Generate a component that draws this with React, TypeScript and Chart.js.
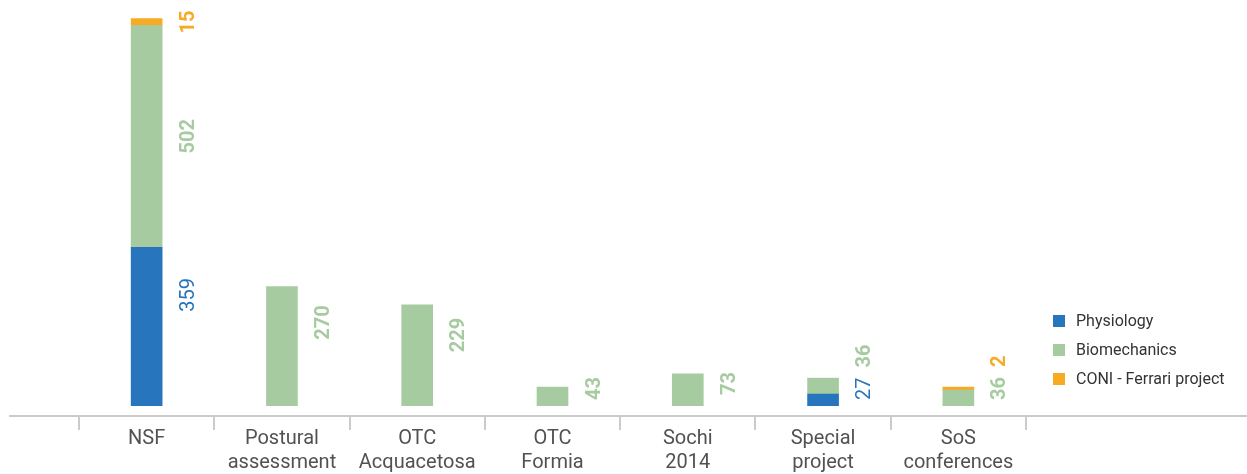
import React, { useEffect, useRef } from 'react';
import { Chart, registerables } from 'chart.js';

Chart.register(...registerables);

// Activity areas along the horizontal axis (multi-line labels)
const categories: string[][] = [
  ['NSF'],
  ['Postural', 'assessment'],
  ['OTC', 'Acquacetosa'],
  ['OTC', 'Formia'],
  ['Sochi', '2014'],
  ['Special', 'project'],
  ['SoS', 'conferences'],
];

// Number of tests per area, stacked bottom to top
const physiology: (number | null)[] = [359, null, null, null, null, 27, null];
const biomechanics: (number | null)[] = [502, 270, 229, 43, 73, 36, 36];
const coniFerrari: (number | null)[] = [15, null, null, null, null, null, 2];

const seriesNames = ['Physiology', 'Biomechanics', 'CONI - Ferrari project'];
const seriesColors = ['#2675BD', '#A7CBA0', '#F8AA23'];

const yMax = 900;

const FONT = 'Roboto, "Noto Sans", "DejaVu Sans", sans-serif';

// Rotated value labels to the right of each stacked segment
const valueLabels = {
  id: 'valueLabels',
  afterDatasetsDraw(chart: any) {
    const { ctx, chartArea } = chart;
    const axisY = chartArea.bottom;
    const n = chart.data.labels.length;
    ctx.save();
    ctx.textAlign = 'center';
    ctx.textBaseline = 'middle';
    for (let i = 0; i < n; i++) {
      let prevTop = Infinity;
      let first = true;
      chart.data.datasets.forEach((ds: any, d: number) => {
        const v = ds.data[i];
        if (v == null || v === 0) return;
        const bar = chart.getDatasetMeta(d).data[i];
        const text = String(v);
        ctx.font = `${d === 0 ? 'normal' : 'bold'} 20px ${FONT}`;
        const half = ctx.measureText(text).width / 2;
        const h = bar.base - bar.y;
        let cy: number;
        if (first) {
          cy = Math.min(bar.base - 0.7 * h, axisY - 6 - half);
        } else {
          cy = Math.min((bar.y + bar.base) / 2, prevTop - 10 - half);
        }
        ctx.save();
        ctx.translate(bar.x + 42, cy);
        ctx.rotate(-Math.PI / 2);
        ctx.fillStyle = ds.backgroundColor;
        ctx.fillText(text, 0, 0);
        ctx.restore();
        prevTop = cy - half;
        first = false;
      });
    }
    ctx.restore();
  },
};

// Baseline with category separator ticks, set a little below the bars
const baseLine = {
  id: 'baseLine',
  afterDraw(chart: any) {
    const { ctx, chartArea } = chart;
    const x = chart.scales.x;
    const y = chartArea.bottom + 10;
    ctx.save();
    ctx.strokeStyle = '#CBCBCB';
    ctx.lineWidth = 2;
    ctx.beginPath();
    ctx.moveTo(chartArea.left - 70, y);
    ctx.lineTo(chart.width, y);
    ctx.stroke();
    const n = chart.data.labels.length;
    const w = (x.right - x.left) / n;
    for (let i = 0; i <= n; i++) {
      const px = Math.round(x.left + i * w);
      ctx.beginPath();
      ctx.moveTo(px, y);
      ctx.lineTo(px, y + 14);
      ctx.stroke();
    }
    ctx.restore();
  },
};

// Legend block to the lower right of the plot
const legendBlock = {
  id: 'legendBlock',
  afterDraw(chart: any) {
    const { ctx, chartArea } = chart;
    const datasets = chart.data.datasets;
    const x0 = chartArea.right + 27;
    const rowGap = 29;
    const lastY = chartArea.bottom - 27;
    ctx.save();
    ctx.font = `16px ${FONT}`;
    ctx.textBaseline = 'middle';
    ctx.textAlign = 'left';
    datasets.forEach((ds: any, k: number) => {
      const cy = lastY - (datasets.length - 1 - k) * rowGap;
      ctx.fillStyle = ds.backgroundColor;
      ctx.fillRect(x0, cy - 6, 12, 12);
      ctx.fillStyle = '#333333';
      ctx.fillText(ds.label, x0 + 23, cy + 1);
    });
    ctx.restore();
  },
};

export default function App() {
  const canvasRef = useRef<HTMLCanvasElement | null>(null);

  useEffect(() => {
    const canvas = canvasRef.current;
    if (!canvas) return;
    const series = [physiology, biomechanics, coniFerrari];
    const chart = new Chart(canvas, {
      type: 'bar',
      data: {
        labels: categories,
        datasets: series.map((data, k) => ({
          label: seriesNames[k],
          data,
          backgroundColor: seriesColors[k],
          borderWidth: 0,
          barThickness: 31,
          minBarLength: k === 2 ? 3 : 0,
        })),
      },
      options: {
        responsive: false,
        animation: false,
        layout: { padding: { left: 79, right: 221, top: 8, bottom: 0 } },
        plugins: {
          legend: { display: false },
          tooltip: { enabled: false },
        },
        scales: {
          x: {
            stacked: true,
            offset: true,
            grid: { display: false },
            border: { display: false },
            ticks: {
              autoSkip: false,
              maxRotation: 0,
              minRotation: 0,
              padding: 13,
              color: '#525252',
              font: { family: FONT, size: 20, lineHeight: 1.2 },
            },
            afterFit: (scale: any) => {
              scale.height = 68;
            },
          },
          y: {
            stacked: true,
            display: false,
            min: 0,
            max: yMax,
          },
        },
      },
      plugins: [valueLabels, baseLine, legendBlock],
    });
    return () => chart.destroy();
  }, []);

  return (
    <div style={{ position: 'fixed', left: 0, top: 0, width: 1247, height: 474, background: '#fff' }}>
      <canvas ref={canvasRef} width={1247} height={474} style={{ display: 'block' }} />
    </div>
  );
}
